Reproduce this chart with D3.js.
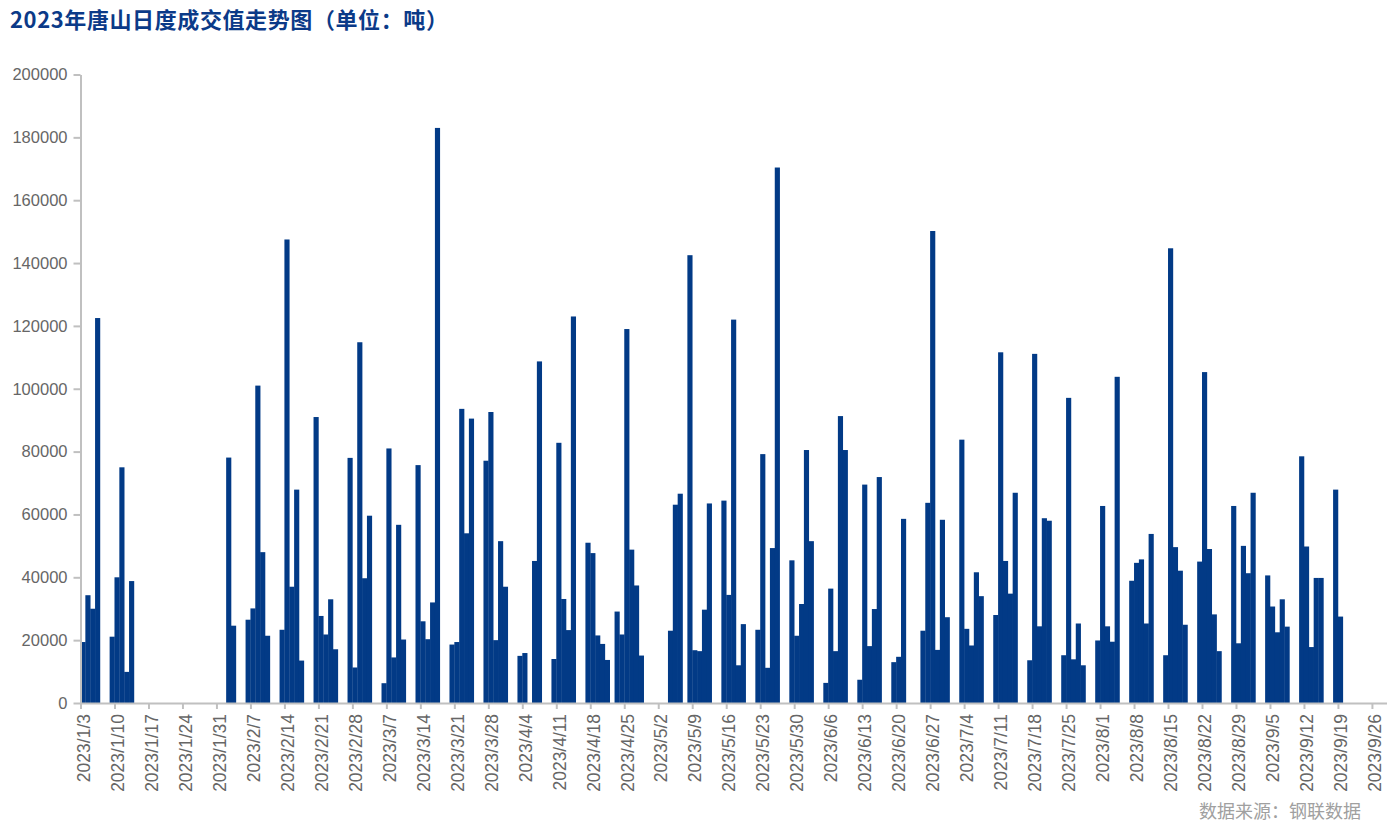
<!DOCTYPE html>
<meta charset="utf-8"/>
<title>2023年唐山日度成交值走势图</title>
<script src="https://cdn.jsdelivr.net/npm/d3@7"></script>
<style>
  body { margin: 0; background: #fff; }
  svg text { font-family: 'Liberation Sans', Arial, sans-serif; }
  .cjk { font-family: 'Noto Sans CJK SC', sans-serif !important; }
</style>
<svg width=1392 height=838></svg>
<script>
  // daily deal volume, tons
  const days = [
    "1/3", "1/4", "1/5", "1/6", "1/9", "1/10", "1/11", "1/12", "1/13",
    "2/2", "2/3", "2/6", "2/7", "2/8", "2/9", "2/10", "2/13", "2/14", "2/15", "2/16", "2/17",
    "2/20", "2/21", "2/22", "2/23", "2/24", "2/27", "2/28", "3/1", "3/2", "3/3",
    "3/6", "3/7", "3/8", "3/9", "3/10", "3/13", "3/14", "3/15", "3/16", "3/17",
    "3/20", "3/21", "3/22", "3/23", "3/24", "3/27", "3/28", "3/29", "3/30", "3/31",
    "4/3", "4/4", "4/6", "4/7", "4/10", "4/11", "4/12", "4/13", "4/14",
    "4/17", "4/18", "4/19", "4/20", "4/21", "4/23", "4/24", "4/25", "4/26", "4/27", "4/28",
    "5/4", "5/5", "5/6", "5/8", "5/9", "5/10", "5/11", "5/12",
    "5/15", "5/16", "5/17", "5/18", "5/19", "5/22", "5/23", "5/24", "5/25", "5/26",
    "5/29", "5/30", "5/31", "6/1", "6/2", "6/5", "6/6", "6/7", "6/8", "6/9",
    "6/12", "6/13", "6/14", "6/15", "6/16", "6/19", "6/20", "6/21",
    "6/25", "6/26", "6/27", "6/28", "6/29", "6/30",
    "7/3", "7/4", "7/5", "7/6", "7/7", "7/10", "7/11", "7/12", "7/13", "7/14",
    "7/17", "7/18", "7/19", "7/20", "7/21", "7/24", "7/25", "7/26", "7/27", "7/28",
    "7/31", "8/1", "8/2", "8/3", "8/4", "8/7", "8/8", "8/9", "8/10", "8/11",
    "8/14", "8/15", "8/16", "8/17", "8/18", "8/21", "8/22", "8/23", "8/24", "8/25",
    "8/28", "8/29", "8/30", "8/31", "9/1", "9/4", "9/5", "9/6", "9/7", "9/8",
    "9/11", "9/12", "9/13", "9/14", "9/15", "9/18", "9/19"
  ];
  const volumes = [
    19400, 34300, 30000, 122500, 21100, 40000, 75000, 9900, 38800,
    78100, 24600, 26500, 30100, 101000, 48000, 21400, 23300, 147500, 37000, 67900, 13500,
    91000, 27700, 21800, 33000, 17100, 78000, 11300, 114800, 39700, 59600,
    6300, 81000, 14500, 56700, 20200, 75700, 26000, 20300, 32000, 183000,
    18600, 19400, 93600, 54000, 90500, 77100, 92600, 20000, 51500, 37000,
    15000, 15900, 45200, 108700, 14000, 82800, 33100, 23200, 123000,
    51000, 47700, 21500, 18800, 13700, 29100, 21800, 119000, 48800, 37400, 15100,
    23000, 63100, 66600, 142500, 16800, 16500, 29700, 63500,
    64400, 34400, 122000, 12000, 25100, 23300, 79200, 11200, 49300, 170400,
    45400, 21400, 31500, 80500, 51500, 6400, 36400, 16500, 91300, 80500,
    7400, 69500, 18100, 29900, 71900, 13000, 14700, 58600,
    23000, 63700, 150200, 16900, 58300, 27300,
    83800, 23600, 18300, 41600, 34000, 28000, 111600, 45200, 34800, 66900,
    13600, 111100, 24400, 58800, 58000, 15200, 97100, 13900, 25300, 12000,
    19900, 62700, 24400, 19500, 103800, 38900, 44600, 45700, 25300, 53800,
    15200, 144700, 49600, 42100, 24900, 45000, 105300, 49000, 28200, 16500,
    62700, 19000, 50000, 41300, 66900, 40600, 30700, 22500, 33000, 24300,
    78500, 49800, 17800, 39800, 39800, 67900, 27500
  ];
  const yTicks = [0, 20000, 40000, 60000, 80000, 100000, 120000, 140000, 160000, 180000, 200000];
  const xStart = "2023/1/3", xEnd = "2023/9/29", lastTick = "2023/9/26";

  const parse = d3.utcParse("%Y/%m/%d");
  const data = days.map((d, i) => ({date: parse("2023/" + d), value: volumes[i]}));

  const svg = d3.select("svg");
  const plotLeft = 80.5, plotRight = 1386.5, plotTop = 74.5, plotBottom = 703;

  const x = d3.scaleUtc().domain([parse(xStart), parse(xEnd)]).range([plotLeft, plotRight]);
  const y = d3.scaleLinear().domain([0, 200000]).range([plotBottom, plotTop]);
  const dayW = x(d3.utcDay.offset(parse(xStart), 1)) - x(parse(xStart));

  svg.append("text")
    .attr("class", "cjk")
    .attr("x", 10).attr("y", 28)
    .style("font-size", "22px").style("font-weight", "bold")
    .style("letter-spacing", "0.6px")
    .style("fill", "#0b3a88")
    .text("2023年唐山日度成交值走势图（单位：吨）");

  svg.append("g").selectAll("rect")
    .data(data).enter()
    .append("rect")
    .attr("x", d => x(d.date))
    .attr("y", d => y(d.value))
    .attr("width", dayW + 0.3)
    .attr("height", d => plotBottom - y(d.value))
    .style("fill", "#023a86");

  const fmt = d => d.getUTCFullYear() + "/" + (d.getUTCMonth() + 1) + "/" + d.getUTCDate();

  const gx = svg.append("g")
    .attr("transform", "translate(0," + plotBottom + ")")
    .call(d3.axisBottom(x)
      .tickValues(d3.utcDay.range(parse(xStart), d3.utcDay.offset(parse(lastTick), 1), 7))
      .tickFormat(fmt).tickSize(6).tickSizeOuter(0));
  gx.selectAll("text")
    .attr("transform", "rotate(-90)")
    .attr("x", -11).attr("y", 0).attr("dy", "0.5em")
    .style("text-anchor", "end");

  const gy = svg.append("g")
    .attr("transform", "translate(" + plotLeft + ",0)")
    .call(d3.axisLeft(y).tickValues(yTicks).tickFormat(d3.format("d"))
      .tickSize(7).tickSizeOuter(0).tickPadding(6));

  [gx, gy].forEach(g => {
    g.select(".domain").style("stroke", "#c0c0c0").style("stroke-width", 2);
    g.selectAll(".tick line").style("stroke", "#c0c0c0").style("stroke-width", 2);
    g.selectAll("text").style("fill", "#666").style("font-family", "'Liberation Sans', Arial, sans-serif");
  });
  gx.selectAll("text").style("font-size", "17.5px");
  gy.selectAll("text").style("font-size", "16.5px");

  svg.append("text")
    .attr("class", "cjk")
    .attr("x", 1361).attr("y", 818)
    .style("text-anchor", "end")
    .style("font-size", "18px").style("fill", "#a0a0a0")
    .text("数据来源：钢联数据");
</script>
